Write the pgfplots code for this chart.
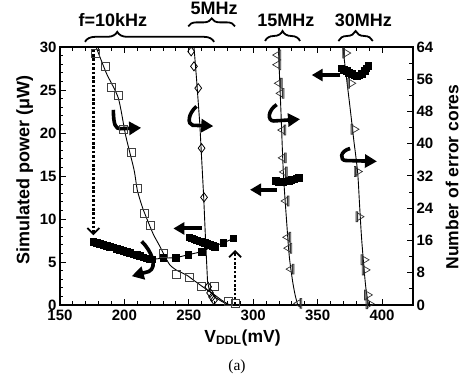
\documentclass[border=0pt]{standalone}
\usepackage{fontspec}
\setmainfont{Liberation Sans}
\newfontfamily\seriffont{Liberation Serif}
\usepackage{pgfplots}
\pgfplotsset{compat=1.18}
\usetikzlibrary{arrows.meta,decorations.pathreplacing}

\pgfdeclareplotmark{ltri}{%
  \pgfpathmoveto{\pgfqpoint{-1\pgfplotmarksize}{0pt}}%
  \pgfpathlineto{\pgfqpoint{0.7\pgfplotmarksize}{1\pgfplotmarksize}}%
  \pgfpathlineto{\pgfqpoint{0.7\pgfplotmarksize}{-1\pgfplotmarksize}}%
  \pgfpathclose
  \pgfpathrectangle{\pgfqpoint{0.55\pgfplotmarksize}{-1.25\pgfplotmarksize}}{\pgfqpoint{0.45\pgfplotmarksize}{2.5\pgfplotmarksize}}%
  \pgfusepathqstroke
}
\pgfdeclareplotmark{rtri}{%
  \pgfpathmoveto{\pgfqpoint{1\pgfplotmarksize}{0pt}}%
  \pgfpathlineto{\pgfqpoint{-0.7\pgfplotmarksize}{1\pgfplotmarksize}}%
  \pgfpathlineto{\pgfqpoint{-0.7\pgfplotmarksize}{-1\pgfplotmarksize}}%
  \pgfpathclose
  \pgfpathrectangle{\pgfqpoint{-1\pgfplotmarksize}{-1.25\pgfplotmarksize}}{\pgfqpoint{0.45\pgfplotmarksize}{2.5\pgfplotmarksize}}%
  \pgfusepathqstroke
}

\tikzset{
  bigarrow/.style={line width=3.6pt, -{Triangle[length=12pt,width=13pt]}},
  larrow/.style={line width=4pt, -{Triangle[length=11pt,width=12pt]}},
  dotarrow/.style={line width=2.6pt, dash pattern=on 2.6pt off 1.8pt, -{Straight Barb[length=6pt,width=12pt,line width=1.8pt]}},
  brc/.style={line width=1.8pt, decorate},
  annot/.style={font=\fontsize{18}{20}\selectfont\bfseries, anchor=base},
}

\begin{document}
\begin{tikzpicture}
\useasboundingbox (-60pt,-70pt) rectangle (401pt,305pt);

% ---------- power axis (left) ----------
\begin{axis}[
  at={(0,0)}, anchor=south west,
  scale only axis, width=353pt, height=258pt,
  xmin=150, xmax=424, ymin=0, ymax=30,
  xtick={150,200,...,400}, minor x tick num=4,
  ytick={0,5,...,30}, minor y tick num=4,
  ytick pos=left,
  tick align=inside,
  major tick length=6pt, minor tick length=3.5pt,
  tick style={black, line width=1pt},
  axis line style={line width=1.3pt},
  ticklabel style={font=\fontsize{15}{16}\selectfont\bfseries},
  xticklabel style={yshift=-1pt},
  /pgf/number format/assume math mode=true,
  clip=false,
]
% 10 kHz power
\addplot[black, line width=0.9pt, mark=square*, mark size=3.3pt] coordinates {
 (175.9,7.36) (178.5,7.22) (181.1,7.09) (183.7,6.97) (186.3,6.86) (188.9,6.76)
 (191.4,6.67) (194,6.53) (196.6,6.4) (199.2,6.3) (201.8,6.2) (204.4,6.05)
 (206.9,5.9) (209.5,5.8) (212.1,5.7) (214.7,5.55) (217.3,5.4) (219.3,5.35)
 (221.2,5.3) (230.2,5.45) (240.1,5.5) (249.6,5.85) (260,6.2) (269,6.85)
 (276.8,7.2) (284.5,7.75)
};
% 5 MHz power
\addplot[black, line width=0.9pt, mark=square*, mark size=3.3pt] coordinates {
 (250.5,7.85) (252.5,7.75) (254.5,7.6) (256.5,7.5) (258.5,7.4) (260.5,7.3)
 (262.5,7.2) (264.5,7.1) (266.5,7.0) (268.5,6.9) (270.5,6.75)
};
% 15 MHz power
\addplot[black, line width=0.9pt, mark=square*, mark size=3.3pt] coordinates {
 (317.5,14.4) (319.5,14.3) (321.5,14.25) (323.5,14.25) (325.5,14.35)
 (327.5,14.45) (329.5,14.55) (331.5,14.6) (333.5,14.7) (335.5,14.75)
};
% 30 MHz power
\addplot[black, line width=0.9pt, mark=square*, mark size=3.3pt] coordinates {
 (368.5,27.5) (370.5,27.35) (372.5,27.2) (374.5,27.0) (376.5,26.85) (378.5,26.7)
 (380.5,26.6) (382.5,26.7) (384.5,26.9) (386.5,27.2) (388,27.5) (389.5,27.8)
};

% braces and frequency labels
\draw[brc, decoration={brace, amplitude=10pt, aspect=0.25}] (axis cs:169.4,30.6) -- (axis cs:269.6,30.6);
\draw[brc, decoration={brace, amplitude=8pt, aspect=0.5}] (axis cs:249.6,32.4) -- (axis cs:285.9,32.4);
\draw[brc, decoration={brace, amplitude=10pt, aspect=0.5}] (axis cs:309.2,30.7) -- (axis cs:336.3,30.7);
\draw[brc, decoration={brace, amplitude=10pt, aspect=0.5}] (axis cs:366.1,30.7) -- (axis cs:392.8,30.7);
\node[annot] at (axis cs:191,32.38) {f=10kHz};
\node[annot] at (axis cs:269.7,33.75) {5MHz};
\node[annot] at (axis cs:325.3,32.44) {15MHz};
\node[annot] at (axis cs:385.5,32.44) {30MHz};

% curved arrows to the right axis
\draw[bigarrow] (axis cs:191.4,22.7) .. controls (axis cs:191.6,20.9) and (axis cs:193,20.5) .. (axis cs:197,20.5) -- (axis cs:213,20.6);
\draw[bigarrow] (axis cs:256,23.1) .. controls (axis cs:249,22.2) and (axis cs:249,21) .. (axis cs:253,20.9) -- (axis cs:269,20.8);
\draw[bigarrow] (axis cs:318.2,23.3) .. controls (axis cs:311,22.6) and (axis cs:311,21.4) .. (axis cs:316,21.4) -- (axis cs:336.3,21.6);
\draw[bigarrow] (axis cs:375.2,18.2) .. controls (axis cs:367,17.9) and (axis cs:367,16.8) .. (axis cs:372,16.8) -- (axis cs:396,16.7);

% arrows to the left axis
\draw[bigarrow] (axis cs:213.4,7.4) .. controls (axis cs:221,6.3) and (axis cs:226,4.4) .. (axis cs:219,3.9) -- (axis cs:205.7,3.35);
\draw[larrow] (axis cs:260,8.9) -- (axis cs:238,8.9);
\draw[larrow] (axis cs:318.2,13.4) -- (axis cs:297.5,13.4);
\draw[larrow] (axis cs:367.7,26.74) -- (axis cs:345.4,26.74);

% dotted arrows
\draw[dotarrow] (axis cs:175.9,29.7) -- (axis cs:175.9,8.1);
\draw[dotarrow] (axis cs:285.9,0.1) -- (axis cs:285.9,6.4);
\end{axis}

% ---------- error-core axis (right) ----------
\begin{axis}[
  at={(0,0)}, anchor=south west,
  scale only axis, width=353pt, height=258pt,
  xmin=150, xmax=424, ymin=0, ymax=64,
  hide x axis,
  ytick={0,8,...,64}, minor y tick num=1,
  ytick pos=right, yticklabel pos=right,
  tick align=inside,
  major tick length=6pt, minor tick length=3.5pt,
  tick style={black, line width=1pt},
  axis line style={line width=1.3pt},
  ticklabel style={font=\fontsize{15}{16}\selectfont\bfseries},
  /pgf/number format/assume math mode=true,
]
% 10 kHz error cores
\addplot[black, line width=0.9pt, smooth, tension=0.4] coordinates {
 (178,64) (186,57.5) (195.3,51.3) (201,42) (207.5,33.5) (210,28.5) (214,24.2)
 (217.8,21.1) (222.5,17.5) (227.6,14.5) (231.5,12) (235.4,9.9) (240.1,8.7)
 (248.4,7.4) (253.5,6.2) (258.7,5.0) (264,3.8) (270,2.5) (275,1.3) (279.4,0.4) (281,0)
};
\addplot[only marks, mark=square, mark size=4pt, black!75, mark options={line width=0.8pt}] coordinates {
 (177.2,62.5) (184.9,59.1) (190.1,53.9) (195.3,51.9) (199.1,43.6) (205.1,37.8)
 (210,28.8) (215.2,22.8) (220.4,19.7) (230.2,12.8) (240.1,7.6) (250.2,6.8)
 (260,4.5) (269.6,4.5) (280.7,0.8) (285.9,0.5)
};
% 5 MHz error cores
\addplot[black, line width=0.9pt] coordinates {
 (254,64) (256,56) (258.5,45) (260,36) (261.5,27) (263,16) (264.5,6) (266,3.5)
 (270,2) (276,0.8) (282,0)
};
\addplot[only marks, mark=diamond, mark size=4.5pt, black, mark options={line width=0.8pt}] coordinates {
 (251.8,62.9) (254,59.2) (257.3,53.8) (259.9,38.9) (261.8,26.7)
 (265,4.5) (266.5,3) (268,2) (269.5,1.2)
};
% 15 MHz error cores
\addplot[black, line width=0.9pt, smooth] coordinates {
 (319.5,64) (321.5,48) (323.4,32.7) (326,20.3) (328,12) (330.5,6) (332.5,2.5) (334.5,0)
};
\addplot[only marks, mark=ltri, mark size=4pt, black!80, mark options={line width=0.7pt}] coordinates {
 (318.2,62) (318.2,59.6) (319.5,55) (320.8,52.5) (322.1,43.4) (322.5,36.5)
 (323.4,33) (324.7,25.8) (326,16.8) (326.8,14.1) (328.6,8.9) (334.6,0.4)
};
% 30 MHz error cores
\addplot[black, line width=0.9pt, smooth] coordinates {
 (369.5,64) (372.5,56) (375.5,48) (378,41) (381,33) (382.5,25) (384,17) (386,9) (387.5,4) (389.5,0)
};
\addplot[only marks, mark=rtri, mark size=4pt, black!80, mark options={line width=0.7pt}] coordinates {
 (372.6,62.5) (376.5,55) (379,43.6) (381.6,33.1) (382.9,21.9) (386.8,11.2)
 (387.6,8.7) (389.4,2.5) (390.7,0.3)
};
\end{axis}

% axis titles
\node[rotate=90, anchor=base, font=\fontsize{18}{20}\selectfont\bfseries] at (-30.7pt,135pt) {Simulated power (μW)};
\node[rotate=90, anchor=base, font=\fontsize{17.5}{20}\selectfont\bfseries] at (398.3pt,128pt) {Number of error cores};
\node[anchor=base, font=\fontsize{17.5}{20}\selectfont\bfseries] at (182.5pt,-37pt) {V\textsubscript{DDL}(mV)};
\node[anchor=base, font=\seriffont\fontsize{15.5}{18}\selectfont] at (177pt,-65pt) {(a)};
\end{tikzpicture}
\end{document}
